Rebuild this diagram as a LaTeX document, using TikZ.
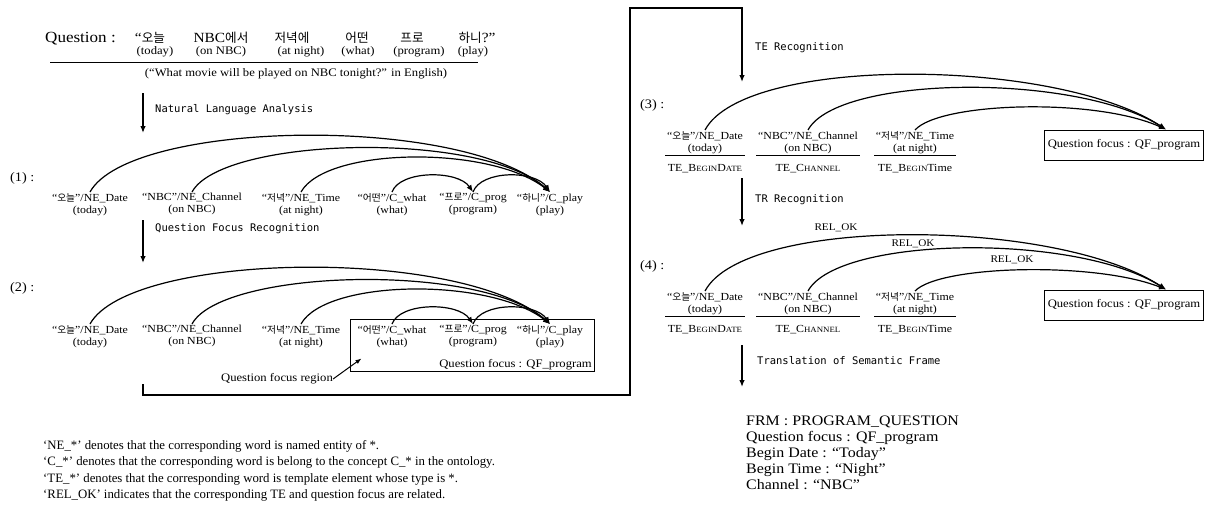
\documentclass[tikz,border=0pt]{standalone}
\usepackage{fontspec}
\usetikzlibrary{arrows.meta,calc}
\setmainfont{Liberation Serif}[FakeStretch=1.1]
\newfontfamily\kr{Noto Sans CJK KR}[Scale=0.9]
\newfontfamily\mono{DejaVu Sans Mono}
\newfontfamily\tnr{Liberation Serif}
\newcommand\K[1]{{\kr #1}}
\newcommand\SC[1]{{\fontsize{8}{8}\selectfont #1}}
\newcommand\TEr{\rule{0pt}{16pt}}
\begin{document}
\begin{tikzpicture}[x=1pt,y=-1pt,
  word/.style={font=\fontsize{10.8}{12}\selectfont, align=center, inner sep=1pt, anchor=north},
  tword/.style={font=\fontsize{14}{14}\selectfont, inner sep=0pt, anchor=base},
  tsub/.style={font=\fontsize{11.5}{12}\selectfont, inner sep=0pt, anchor=base},
  rowlbl/.style={font=\fontsize{13}{13}\selectfont, inner sep=0pt, anchor=west},
  arc/.style={line width=1.2pt, -{Latex[length=7pt,width=5.5pt]}},
  steparrow/.style={line width=1.3pt, -{Latex[length=7pt,width=5.5pt]}},
  steplbl/.style={font=\mono\fontsize{10.5}{12}\selectfont, anchor=west, inner sep=0pt},
  small/.style={font=\fontsize{11.5}{12}\selectfont, inner sep=0pt},
  rel/.style={font=\fontsize{10.2}{12}\selectfont, inner sep=0pt},
  qfbox/.style={draw, line width=1pt, minimum width=159, minimum height=30, font=\fontsize{11.5}{12}\selectfont, inner sep=0pt}
]
\useasboundingbox (0,0) rectangle (1207,504);

% ---------- Question ----------
\node[font=\fontsize{15.5}{15}\selectfont, inner sep=0pt, anchor=base west] (qlab) at (45,42) {Question :};
\node[tword] (q1) at (150,42) {“\K{오늘}};
\node[tword] (q2) at (221,42) {NBC\K{에서}};
\node[tword] (q3) at (292,42) {\K{저녁에}};
\node[tword] (q4) at (357,42) {\K{어떤}};
\node[tword] (q5) at (412,42) {\K{프로}};
\node[tword] (q6) at (477,42) {\K{하니}?”};
\node[tsub] (q1s) at (155,54) {(today)};
\node[tsub] (q2s) at (221,54) {(on NBC)};
\node[tsub] (q3s) at (301,54) {(at night)};
\node[tsub] (q4s) at (358,54) {(what)};
\node[tsub] (q5s) at (419,54) {(program)};
\node[tsub] (q6s) at (473,54) {(play)};
\draw[line width=1pt] (50,62) -- (478,62);
\node[tsub, anchor=center] (eng) at (296,74) {(“What movie will be played on NBC tonight?” in English)};

% ---------- step 1 ----------
\coordinate (a1s) at (143,93);
\coordinate (a1e) at (143,133);
\draw[steparrow] (a1s) -- (a1e);
\node[steplbl] (l1) at (155,110) {Natural Language Analysis};

% ---------- row (1) ----------
\node[rowlbl] (n1) at (10,178) {(1) :};
\node[word] (r1a) at (90,192) {“\K{오늘}”/NE\_Date\\(today)};
\node[word] (r1b) at (192,192) {“NBC”/NE\_Channel\\(on NBC)};
\node[word] (r1c) at (301,192) {“\K{저녁}”/NE\_Time\\(at night)};
\node[word] (r1d) at (392,192) {“\K{어떤}”/C\_what\\(what)};
\node[word] (r1e) at (473,192) {“\K{프로}”/C\_prog\\(program)};
\node[word] (r1f) at (550,192) {“\K{하니}”/C\_play\\(play)};
\draw[arc] (r1a.north) .. controls +(40,-72) and +(-90,-78) .. (r1f.north);
\draw[arc] (r1b.north) .. controls +(30,-55) and +(-70,-62) .. (r1f.north);
\draw[arc] (r1c.north) .. controls +(25,-45) and +(-60,-47) .. (r1f.north);
\draw[arc] (r1d.north) .. controls +(8,-22) and +(-15,-22) .. (r1e.north);
\draw[arc] (r1e.north) .. controls +(8,-22) and +(-15,-22) .. (r1f.north);

% ---------- step 2 ----------
\coordinate (a2s) at (143,220);
\coordinate (a2e) at (143,263);
\draw[steparrow] (a2s) -- (a2e);
\node[steplbl] (l2) at (155,229) {Question Focus Recognition};

% ---------- row (2) ----------
\node[rowlbl] (n2) at (10,288) {(2) :};
\node[word] (r2a) at (90,324) {“\K{오늘}”/NE\_Date\\(today)};
\node[word] (r2b) at (192,324) {“NBC”/NE\_Channel\\(on NBC)};
\node[word] (r2c) at (301,324) {“\K{저녁}”/NE\_Time\\(at night)};
\node[word] (r2d) at (392,324) {“\K{어떤}”/C\_what\\(what)};
\node[word] (r2e) at (473,324) {“\K{프로}”/C\_prog\\(program)};
\node[word] (r2f) at (550,324) {“\K{하니}”/C\_play\\(play)};
\draw[arc] (r2a.north) .. controls +(40,-72) and +(-90,-78) .. (r2f.north);
\draw[arc] (r2b.north) .. controls +(30,-55) and +(-70,-62) .. (r2f.north);
\draw[arc] (r2c.north) .. controls +(25,-45) and +(-60,-47) .. (r2f.north);
\draw[arc] (r2d.north) .. controls +(8,-22) and +(-15,-22) .. (r2e.north);
\draw[arc] (r2e.north) .. controls +(8,-22) and +(-15,-22) .. (r2f.north);
\node[draw, line width=1pt, minimum width=244, minimum height=52, inner sep=0pt] (qfreg) at (472,345) {};
\node[small, anchor=base east] (qf2) at (592,367) {Question focus : QF\_program};
\node[small, anchor=center] (qfr) at (277,379) {Question focus region};
\draw[line width=1pt, -{Latex[length=6pt,width=4.5pt]}] (qfr.east) -- ($(qfreg.south west)+(12,-13)$);

% ---------- big connector ----------
\coordinate (c0) at (143,384);
\coordinate (a3e) at (742,82);
\draw[steparrow] (c0) -- (143,395) -- (630,395) -- (630,8) -- (742,8) -- (a3e);
\node[steplbl] (l3) at (755,48) {TE Recognition};

% ---------- row (3) ----------
\node[rowlbl] (n3) at (640,105) {(3) :};
\node[word] (r3a) at (705,130) {\begin{tabular}{@{\,}c@{\,}}“\K{오늘}”/NE\_Date\\(today)\\\hline\TEr TE\_B\SC{EGIN}D\SC{ATE}\end{tabular}};
\node[word] (r3b) at (808,130) {\begin{tabular}{@{\,}c@{\,}}“NBC”/NE\_Channel\\(on NBC)\\\hline\TEr TE\_C\SC{HANNEL}\end{tabular}};
\node[word] (r3c) at (915,130) {\begin{tabular}{@{\,}c@{\,}}“\K{저녁}”/NE\_Time\\(at night)\\\hline\TEr TE\_B\SC{EGIN}Time\end{tabular}};
\node[qfbox] (qf3) at (1124,145) {Question focus : QF\_program};
\coordinate (e3) at ($(qf3.north)+(42,0)$);
\draw[arc] (r3a.north) .. controls +(40,-75) and +(-110,-72) .. (e3);
\draw[arc] (r3b.north) .. controls +(30,-55) and +(-90,-57) .. (e3);
\draw[arc] (r3c.north) .. controls +(25,-28) and +(-70,-32) .. (e3);

% ---------- step 4 ----------
\coordinate (a4s) at (742,178);
\coordinate (a4e) at (742,226);
\draw[steparrow] (a4s) -- (a4e);
\node[steplbl] (l4) at (755,200) {TR Recognition};

% ---------- row (4) ----------
\node[rowlbl] (n4) at (640,266) {(4) :};
\node[word] (r4a) at (705,291) {\begin{tabular}{@{\,}c@{\,}}“\K{오늘}”/NE\_Date\\(today)\\\hline\TEr TE\_B\SC{EGIN}D\SC{ATE}\end{tabular}};
\node[word] (r4b) at (808,291) {\begin{tabular}{@{\,}c@{\,}}“NBC”/NE\_Channel\\(on NBC)\\\hline\TEr TE\_C\SC{HANNEL}\end{tabular}};
\node[word] (r4c) at (915,291) {\begin{tabular}{@{\,}c@{\,}}“\K{저녁}”/NE\_Time\\(at night)\\\hline\TEr TE\_B\SC{EGIN}Time\end{tabular}};
\node[qfbox] (qf4) at (1124,305) {Question focus : QF\_program};
\coordinate (e4) at ($(qf4.north)+(42,0)$);
\draw[arc] (r4a.north) .. controls +(40,-75) and +(-110,-72) .. (e4);
\draw[arc] (r4b.north) .. controls +(30,-55) and +(-90,-57) .. (e4);
\draw[arc] (r4c.north) .. controls +(25,-26) and +(-70,-28) .. (e4);
\node[rel, anchor=center] (rel1) at (836,228) {REL\_OK};
\node[rel, anchor=center] (rel2) at (913,244) {REL\_OK};
\node[rel, anchor=center] (rel3) at (1012,260) {REL\_OK};

% ---------- step 5 ----------
\coordinate (a5s) at (742,345);
\coordinate (a5e) at (742,387);
\draw[steparrow] (a5s) -- (a5e);
\node[steplbl] (l5) at (757,361) {Translation of Semantic Frame};

\node[font=\fontsize{14.5}{16}\selectfont, align=left, anchor=north west, inner sep=0pt] (frm) at (746,416) {FRM : PROGRAM\_QUESTION\\Question focus : QF\_program\\Begin Date : “Today”\\Begin Time : “Night”\\Channel : “NBC”};

% ---------- footnotes ----------
\node[font=\tnr\fontsize{12.8}{16.5}\selectfont, align=left, anchor=north west, inner sep=0pt] (notes) at (43,440) {‘NE\_*’ denotes that the corresponding word is named entity of *.\\
‘C\_*’ denotes that the corresponding word is belong to the concept C\_* in the ontology.\\
‘TE\_*’ denotes that the corresponding word is template element whose type is *.\\
‘REL\_OK’ indicates that the corresponding TE and question focus are related.};
\end{tikzpicture}
\end{document}
